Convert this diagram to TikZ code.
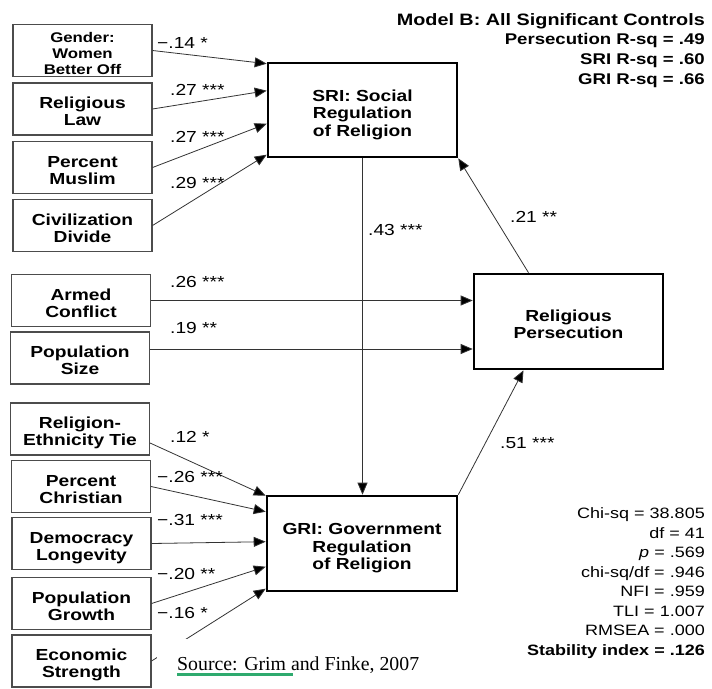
\documentclass[tikz,border=0pt]{standalone}
\usepackage{fontspec}
\setmainfont{Liberation Sans}[FakeStretch=1.2]
\newfontfamily\capfont{Liberation Serif}
\usetikzlibrary{arrows.meta,calc}
\definecolor{uline}{RGB}{46,170,110}
% centred lines of a box label, set a little below the box centre
\newcommand\boxlines[1]{\raisebox{-5pt}[\height][\depth]{\begin{tabular}{@{}c@{}}#1\end{tabular}}}
\tikzset{
  every node/.style={inner sep=0pt},
  var/.style={draw=black!70, line width=1.1pt, minimum width=139pt, minimum height=52pt,
    font=\bfseries\fontsize{16}{17}\selectfont},
  latent/.style={draw=black, line width=2.6pt, minimum width=189pt, minimum height=94pt,
    font=\bfseries\fontsize{16}{17.5}\selectfont},
  path/.style={draw=black!80, line width=0.8pt, -{Triangle[length=12pt,width=10pt,fill=black]}},
  coef/.style={anchor=west, font=\fontsize{16}{19}\selectfont},
}
\begin{document}
\begin{tikzpicture}[x=1pt,y=-1pt]
\useasboundingbox (0,0) rectangle (712,688);

% exogenous variables
\node[var, font=\bfseries\fontsize{14}{15.7}\selectfont] (gen) at (82.5,50.5) {\boxlines{Gender:\\Women\\Better Off}};
\node[var] (rlaw) at (82.5,109) {\boxlines{Religious\\Law}};
\node[var] (pmus) at (82.5,167.5) {\boxlines{Percent\\Muslim}};
\node[var] (civ) at (82.5,225.5) {\boxlines{Civilization\\Divide}};
\node[var] (arm) at (81,300.5) {\boxlines{Armed\\Conflict}};
\node[var] (pop) at (80,358) {\boxlines{Population\\Size}};
\node[var] (reth) at (80,429) {\boxlines{Religion-\\Ethnicity Tie}};
\node[var] (pchr) at (81,486.5) {\boxlines{Percent\\Christian}};
\node[var] (demo) at (81.5,543.5) {\boxlines{Democracy\\Longevity}};
\node[var] (pgr) at (81.5,603.5) {\boxlines{Population\\Growth}};
\node[var] (econ) at (81.5,661) {\boxlines{Economic\\Strength}};

% endogenous variables
\node[latent] (sri) at (362.5,110) {\boxlines{SRI: Social\\Regulation\\of Religion}};
\node[latent, minimum width=190pt, minimum height=95pt] (gri) at (362,543.5) {\boxlines{GRI: Government\\Regulation\\of Religion}};
\node[latent, minimum height=95pt] (pers) at (568.5,321.5) {\boxlines{Religious\\Persecution}};

% arrow ends on the SRI and GRI boxes
\coordinate (s1) at ($(sri.north west)+(0,2)$);
\coordinate (s2) at ($(sri.north west)+(0,29)$);
\coordinate (s3) at ($(sri.north west)+(0,62)$);
\coordinate (s4) at ($(sri.north west)+(0,93)$);
\coordinate (g1) at ($(gri.north west)+(0,1)$);
\coordinate (g2) at ($(gri.north west)+(0,17)$);
\coordinate (g3) at ($(gri.north west)+(0,47)$);
\coordinate (g4) at ($(gri.north west)+(0,72)$);
\coordinate (g5) at ($(gri.north west)+(0,94)$);
\coordinate (rt) at ($(reth.east)+(0,14)$);
\coordinate (pp) at ($(pop.east)+(0,-9)$);

% paths into SRI
\draw[path] (gen.east) -- (s1);
\draw[path] (rlaw.east) -- (s2);
\draw[path] (pmus.east) -- (s3);
\draw[path] (civ.east) -- (s4);
% paths into persecution
\draw[path] (arm.east) -- (arm.east -| pers.west);
\draw[path] (pp) -- (pp -| pers.west);
% paths into GRI
\draw[path] (rt) -- (g1);
\draw[path] (pchr.east) -- (g2);
\draw[path] (demo.east) -- (g3);
\draw[path] (pgr.east) -- (g4);
\draw[path] (econ.east) -- (g5);
% paths between the endogenous variables
\draw[path] (sri.south) -- (sri.south |- gri.north);
\draw[path] ($(pers.north)+(-40,0)$) -- (sri.south east);
\draw[path] (gri.north east) -- ($(pers.south)+(-45,0)$);

% path coefficients
\node[coef] (c1) at (157,43) {−.14 *};
\node[coef] (c2) at (170,90) {.27 ***};
\node[coef] (c3) at (170,137) {.27 ***};
\node[coef] (c4) at (170,183) {.29 ***};
\node[coef] (c5) at (170,282) {.26 ***};
\node[coef] (c6) at (170,328) {.19 **};
\node[coef] (c7) at (368,230) {.43 ***};
\node[coef] (c8) at (510,217) {.21 **};
\node[coef] (c9) at (500,443) {.51 ***};
\node[coef] (c10) at (170,437) {.12 *};
\node[coef] (c11) at (157,477) {−.26 ***};
\node[coef] (c12) at (157,520) {−.31 ***};
\node[coef] (c13) at (157,574) {−.20 **};
\node[coef] (c14) at (157,613) {−.16 *};

% model summary
\node[anchor=north east, align=right, font=\bfseries\fontsize{15.5}{19.7}\selectfont] (model) at (705,13)
  {{\fontsize{16.5}{19.7}\selectfont Model B: All Significant Controls}\\Persecution R-sq = .49\\SRI R-sq = .60\\GRI R-sq = .66};

% fit statistics
\node[anchor=north east, align=right, font=\fontsize{15}{19.5}\selectfont] (fit) at (705,507.5)
  {Chi-sq = 38.805\\df = 41\\\textit{p} = .569\\chi-sq/df = .946\\NFI = .959\\TLI = 1.007\\RMSEA = .000\\\textbf{Stability index = .126}};

% source line
\node[fill=white, inner xsep=20pt, inner ysep=17pt, anchor=base west,
  font=\capfont\fontsize{19.8}{24}\selectfont] (src) at (157,670) {Source: Grim and Finke, 2007};
\draw[uline, line width=2.6pt] ($(src.base west)+(20,4.5)$) -- ++(116,0);
\end{tikzpicture}
\end{document}
